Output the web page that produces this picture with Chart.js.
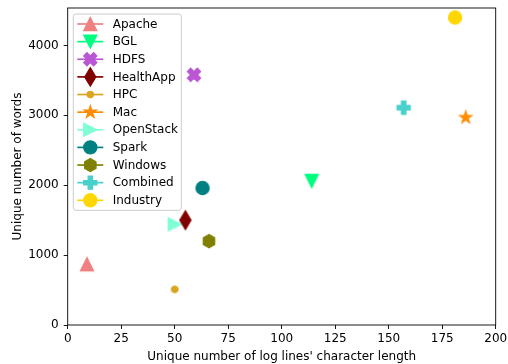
<!DOCTYPE html>
<html>
<head>
<meta charset="utf-8">
<script src="https://cdn.jsdelivr.net/npm/chart.js@4.4.0/dist/chart.umd.min.js"></script>
<style>
  html, body { margin: 0; padding: 0; background: #ffffff; }
  #wrap { width: 508px; height: 364px; position: relative; }
</style>
</head>
<body>
<div id="wrap"><canvas id="chart" width="508" height="364"></canvas></div>
<script>
// Log datasets: distinct line lengths vs. distinct words
const systems = ['Apache', 'BGL', 'HDFS', 'HealthApp', 'HPC', 'Mac', 'OpenStack', 'Spark', 'Windows', 'Combined', 'Industry'];
const lineLengths = [9, 114, 59, 55, 50, 186, 50, 63, 66, 157, 181];
const uniqueWords = [870, 2060, 3580, 1500, 510, 2970, 1440, 1960, 1200, 3110, 4400];
const colors = ['#F08080', '#00FF7F', '#BA55D3', '#800000', '#DAA520', '#FF8C00', '#7FFFD4', '#008080', '#808000', '#48D1CC', '#FFD700'];
const markerShapes = ['triangleUp', 'triangleDown', 'xFilled', 'thinDiamond', 'point', 'star', 'triangleRight', 'circle', 'hexagon', 'plusFilled', 'circle'];
const xTicks = [0, 25, 50, 75, 100, 125, 150, 175, 200];
const yTicks = [0, 1000, 2000, 3000, 4000];

const FONT = 'DejaVu Sans';
const FONT_SIZE = 12;
const MARKER_SIZE = 13.3;

// Outline of each marker shape, centred on (0,0), for a marker of size s
function markerPath(ctx, shape, s) {
  const h = s / 2;
  const poly = (pts) => {
    ctx.beginPath();
    pts.forEach((p, i) => (i ? ctx.lineTo(p[0], p[1]) : ctx.moveTo(p[0], p[1])));
    ctx.closePath();
  };
  switch (shape) {
    case 'triangleUp': poly([[0, -h], [-h, h], [h, h]]); break;
    case 'triangleDown': poly([[0, h], [-h, -h], [h, -h]]); break;
    case 'triangleRight': poly([[h, 0], [-h, -h], [-h, h]]); break;
    case 'circle': ctx.beginPath(); ctx.arc(0, 0, h, 0, Math.PI * 2); break;
    case 'point': ctx.beginPath(); ctx.arc(0, 0, h / 2, 0, Math.PI * 2); break;
    case 'thinDiamond': {
      const dh = s * Math.SQRT2 / 2, dw = 0.6 * dh;
      poly([[0, -dh], [dw, 0], [0, dh], [-dw, 0]]);
      break;
    }
    case 'hexagon': {
      const pts = [];
      for (let k = 0; k < 6; k++) {
        const a = -Math.PI / 2 + k * Math.PI / 3;
        pts.push([h * Math.cos(a), h * Math.sin(a)]);
      }
      poly(pts);
      break;
    }
    case 'star': {
      const pts = [];
      for (let k = 0; k < 10; k++) {
        const r = k % 2 ? h * 0.381966 : h;
        const a = -Math.PI / 2 + k * Math.PI / 5;
        pts.push([r * Math.cos(a), r * Math.sin(a)]);
      }
      poly(pts);
      break;
    }
    case 'xFilled': {
      const base = [[-1, -2], [0, -1], [1, -2], [2, -1], [1, 0], [2, 1], [1, 2], [0, 1], [-1, 2], [-2, 1], [-1, 0], [-2, -1]];
      poly(base.map(p => [p[0] * s / 4, p[1] * s / 4]));
      break;
    }
    case 'plusFilled': {
      const base = [[-1, -3], [1, -3], [1, -1], [3, -1], [3, 1], [1, 1], [1, 3], [-1, 3], [-1, 1], [-3, 1], [-3, -1], [-1, -1]];
      poly(base.map(p => [p[0] * s / 6, p[1] * s / 6]));
      break;
    }
  }
}

function drawMarker(ctx, shape, color, s) {
  markerPath(ctx, shape, s);
  ctx.fillStyle = color;
  ctx.fill();
  ctx.lineWidth = 1.1;
  ctx.lineJoin = 'miter';
  ctx.strokeStyle = color;
  ctx.stroke();
}

// Offscreen canvas holding one marker, used as a Chart.js pointStyle
function markerCanvas(shape, color, s) {
  const dim = Math.ceil(s * 1.6) + 4;
  const c = document.createElement('canvas');
  c.width = dim;
  c.height = dim;
  const ctx = c.getContext('2d');
  ctx.translate(dim / 2, dim / 2);
  drawMarker(ctx, shape, color, s);
  return c;
}

const datasets = systems.map((name, i) => ({
  label: name,
  data: [{ x: lineLengths[i], y: uniqueWords[i] }],
  pointStyle: markerCanvas(markerShapes[i], colors[i], MARKER_SIZE),
  pointRadius: 7,
  pointHoverRadius: 7,
  backgroundColor: colors[i],
  borderColor: colors[i],
  showLine: false
}));

// Axes frame on top of the markers, then the boxed legend on top of everything
const framePlugin = {
  id: 'frameAndLegend',
  afterDatasetsDraw(chart) {
    const { ctx, chartArea: a } = chart;
    ctx.save();
    ctx.strokeStyle = '#000000';
    ctx.lineWidth = 0.9;
    ctx.strokeRect(a.left, a.top, a.right - a.left, a.bottom - a.top);

    // legend box
    const bx = a.left + 5.6, by = a.top + 6, bw = 108, bh = 196.3, r = 2.5;
    ctx.beginPath();
    ctx.moveTo(bx + r, by);
    ctx.arcTo(bx + bw, by, bx + bw, by + bh, r);
    ctx.arcTo(bx + bw, by + bh, bx, by + bh, r);
    ctx.arcTo(bx, by + bh, bx, by, r);
    ctx.arcTo(bx, by, bx + bw, by, r);
    ctx.closePath();
    ctx.fillStyle = 'rgba(255,255,255,0.8)';
    ctx.fill();
    ctx.strokeStyle = '#cccccc';
    ctx.lineWidth = 1;
    ctx.stroke();

    ctx.font = FONT_SIZE + 'px "' + FONT + '"';
    ctx.textBaseline = 'middle';
    ctx.textAlign = 'left';
    const rowGap = 17.63;
    systems.forEach((name, i) => {
      const y = by + 10 + i * rowGap;
      const x0 = bx + 4, x1 = bx + 30, xm = (x0 + x1) / 2;
      ctx.beginPath();
      ctx.moveTo(x0, y);
      ctx.lineTo(x1, y);
      ctx.strokeStyle = colors[i];
      ctx.lineWidth = 1.67;
      ctx.stroke();
      ctx.save();
      ctx.translate(xm, y);
      drawMarker(ctx, markerShapes[i], colors[i], MARKER_SIZE);
      ctx.restore();
      ctx.fillStyle = '#000000';
      ctx.fillText(name, bx + 39.4, y + 0.5);
    });
    ctx.restore();
  }
};

const tickFont = { family: FONT, size: FONT_SIZE };

new Chart(document.getElementById('chart'), {
  type: 'scatter',
  data: { datasets },
  plugins: [framePlugin],
  options: {
    responsive: false,
    animation: false,
    events: [],
    layout: { padding: { top: 6, right: 12.3, left: 0, bottom: 0 } },
    plugins: {
      legend: { display: false },
      tooltip: { enabled: false }
    },
    scales: {
      x: {
        type: 'linear',
        min: 0,
        max: 200,
        afterBuildTicks: (scale) => { scale.ticks = xTicks.map(v => ({ value: v })); },
        afterFit: (scale) => {
          scale.height = 39;
          scale.paddingLeft = 0;
          scale.paddingRight = 0;
        },
        border: { display: false },
        grid: { display: true, drawOnChartArea: false, drawTicks: true, tickLength: 4, tickColor: '#000000', lineWidth: 0.9 },
        ticks: { color: '#000000', font: tickFont, padding: 3, maxRotation: 0, callback: (v) => String(v) },
        title: {
          display: true,
          text: "Unique number of log lines' character length",
          color: '#000000',
          font: tickFont,
          padding: { top: 2.5, bottom: 0 }
        }
      },
      y: {
        type: 'linear',
        min: 0,
        max: 4536,
        afterBuildTicks: (scale) => { scale.ticks = yTicks.map(v => ({ value: v })); },
        afterFit: (scale) => {
          scale.width = 67.7;
          scale.paddingTop = 0;
          scale.paddingBottom = 0;
        },
        border: { display: false },
        grid: { display: true, drawOnChartArea: false, drawTicks: true, tickLength: 4, tickColor: '#000000', lineWidth: 0.9 },
        ticks: { color: '#000000', font: tickFont, padding: 5, callback: (v) => String(v) },
        title: {
          display: true,
          text: 'Unique number of words',
          color: '#000000',
          font: tickFont,
          padding: { top: 11, bottom: 0 }
        }
      }
    }
  }
});
</script>
</body>
</html>
